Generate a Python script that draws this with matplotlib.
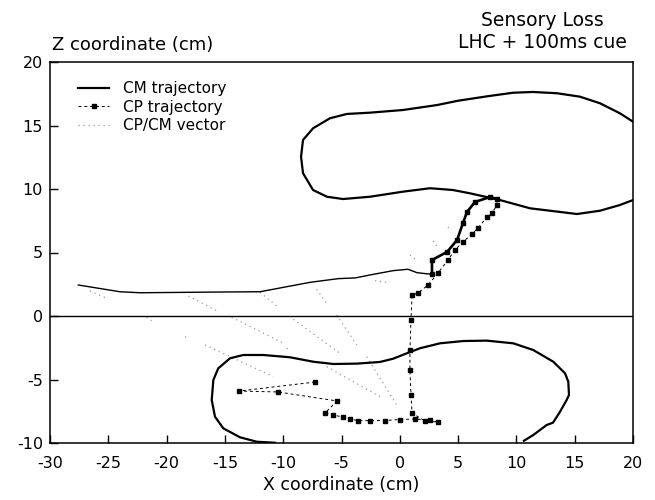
import matplotlib
matplotlib.use("Agg")
import matplotlib.pyplot as plt
import numpy as np

plt.rcParams['font.family'] = ['DejaVu Sans']
plt.rcParams['axes.unicode_minus'] = False

# CM trajectory (thin part, running left to right above the zero line)
cm_x = [-27.57, -24.0, -22.28, -15.16, -11.99, -9.67, -7.70, -5.30, -3.80,
        -2.56, -0.58, 0.70, 1.48, 2.76]
cm_z = [2.44, 1.91, 1.83, 1.89, 1.91, 2.31, 2.65, 2.94, 3.00,
        3.23, 3.57, 3.68, 3.41, 3.28]

# CM trajectory, upper loop (leaves the frame on the right)
up_x = [20.0, 18.88, 17.17, 15.45, 13.48, 11.42, 9.71, 7.5, 5.0, 3.19, 0.27,
        -2.56, -4.53, -5.99, -7.44, -8.30, -8.47, -8.30, -7.44, -6.24, -4.87,
        -2.56, 0.27, 2.59, 4.56, 6.02, 8.59, 11.17, 15.20, 17.17, 18.88, 20.0]
up_z = [15.30, 15.96, 16.75, 17.27, 17.54, 17.64, 17.58, 17.30, 16.95, 16.61,
        16.22, 16.01, 15.91, 15.57, 14.78, 13.86, 12.54, 11.24, 9.92, 9.39,
        9.21, 9.39, 9.79, 10.06, 9.92, 9.66, 9.13, 8.48, 8.03, 8.29, 8.74, 9.13]

# CM trajectory, lower loop (leaves the frame at the bottom)
lo_x = [-10.70, -12.27, -13.71, -15.14, -15.85, -16.13, -15.99, -15.57, -14.56,
        -13.42, -11.71, -9.42, -7.42, -5.70, -3.70, -1.70, -0.56, 0.59, 1.73,
        3.45, 5.45, 7.45, 9.73, 11.45, 13.16, 14.17, 14.45, 14.51, 14.31,
        13.74, 13.14, 12.60, 11.45, 10.65]
lo_z = [-9.98, -9.90, -9.55, -8.84, -7.93, -6.61, -5.04, -4.12, -3.33,
        -3.07, -3.07, -3.25, -3.60, -3.78, -3.75, -3.62, -3.36, -2.94, -2.54,
        -2.15, -1.97, -1.94, -2.15, -2.68, -3.60, -4.51, -5.17, -6.22, -6.61,
        -7.54, -8.40, -8.58, -9.37, -9.82]

# CP trajectory
cp_x = [-7.27, -13.79, -10.45, -5.39, -6.41, -5.73, -4.87, -4.27, -3.59, -2.56,
        -1.27, 0.02, 1.30, 2.59, 3.28, 2.16, 1.05, 0.96, 0.87, 0.87, 0.96, 1.05,
        1.56, 2.42, 3.28, 4.13, 4.73, 5.42, 6.19, 6.71, 7.48, 7.91, 8.34, 8.34,
        7.74, 6.45, 5.76, 5.42, 4.91, 4.05, 2.76, 2.76]
cp_z = [-5.20, -5.91, -5.98, -6.69, -7.64, -7.80, -7.95, -8.11, -8.24, -8.24,
        -8.23, -8.15, -8.11, -8.19, -8.35, -8.27, -7.64, -6.22, -4.25, -2.68,
        -0.31, 1.65, 1.81, 2.44, 3.39, 4.41, 5.20, 5.83, 6.46, 6.93, 7.80, 8.11,
        8.74, 9.21, 9.37, 8.98, 8.19, 7.32, 5.98, 5.04, 4.41, 3.31]
cp_slow = 33  # from here on the CP samples pile up into a solid stroke

# CP/CM vectors: start and end of each segment
vec_x0 = [-26.57, -21.71, -18.14, -18.42, -16.71, -11.99, -14.42, -9.70, -9.13,
          -7.13, -5.41, -6.27, -2.84, -2.13, 0.87, 2.85, 4.13]
vec_z0 = [1.97, -0.10, 1.57, -1.63, -2.28, 1.86, -0.10, -2.54, -0.26,
          2.10, 0.08, -3.99, -3.20, 2.78, 4.80, 5.91, 7.01]
vec_x1 = [-25.14, -21.28, -15.70, -18.14, -10.85, -10.56, -9.99, -9.42, -5.13,
          -6.28, -3.70, -1.70, -0.27, -0.84, 1.39, 3.19, 4.39]
vec_z1 = [1.39, -0.37, 0.42, -1.76, -4.78, 0.79, -2.14, -2.68, -2.94,
          1.00, -2.28, -6.35, -7.01, 2.62, 4.41, 5.51, 6.69]

vec_style = dict(color='#9a9a9a', lw=0.9, ls=(0, (1, 3)))

fig = plt.figure(figsize=(6.55, 5.0), dpi=100)
ax = fig.add_axes([50 / 655, 57 / 500, 583 / 655, 381 / 500])

for x0, z0, x1, z1 in zip(vec_x0, vec_z0, vec_x1, vec_z1):
    ax.plot([x0, x1], [z0, z1], **vec_style)

ax.axhline(0, color='black', lw=1.0)

ax.plot(cm_x, cm_z, color='black', lw=1.0)
ax.plot(up_x, up_z, color='black', lw=1.6, solid_joinstyle='round')
ax.plot(lo_x, lo_z, color='black', lw=1.6, solid_joinstyle='round')
cp_line, = ax.plot(cp_x, cp_z, color='black', lw=0.7, ls=(0, (3, 3)),
                   marker='s', ms=2.2)
ax.plot(cp_x[cp_slow:], cp_z[cp_slow:], color='black', lw=1.9,
        solid_joinstyle='round', solid_capstyle='round')

vec_handle, = ax.plot([], [], **vec_style)
cm_handle, = ax.plot([], [], color='black', lw=1.6)
ax.legend([cm_handle, cp_line, vec_handle],
          ['CM trajectory', 'CP trajectory', 'CP/CM vector'],
          loc='upper left', bbox_to_anchor=(0.025, 0.985), frameon=False,
          fontsize=11, handlelength=2.0, labelspacing=0.22, handletextpad=0.9)

ax.set_xlim(-30, 20)
ax.set_ylim(-10, 20)
ax.set_xticks(np.arange(-30, 21, 5))
ax.set_yticks(np.arange(-10, 21, 5))
ax.tick_params(direction='in', length=6, width=1, labelsize=11.5)
ax.tick_params(axis='x', pad=9)
ax.tick_params(axis='y', pad=5)
for s in ax.spines.values():
    s.set_linewidth(1.1)

ax.set_xlabel('X coordinate (cm)', fontsize=12.5, labelpad=4)
fig.text(52 / 655, 1 - 45 / 500, 'Z coordinate (cm)', fontsize=13,
         ha='left', va='center')
fig.text(542 / 655, 1 - 20 / 500, 'Sensory Loss', fontsize=13.5,
         ha='center', va='center')
fig.text(542 / 655, 1 - 43 / 500, 'LHC + 100ms cue', fontsize=13.5,
         ha='center', va='center')

fig.savefig('out.png', dpi=100)
